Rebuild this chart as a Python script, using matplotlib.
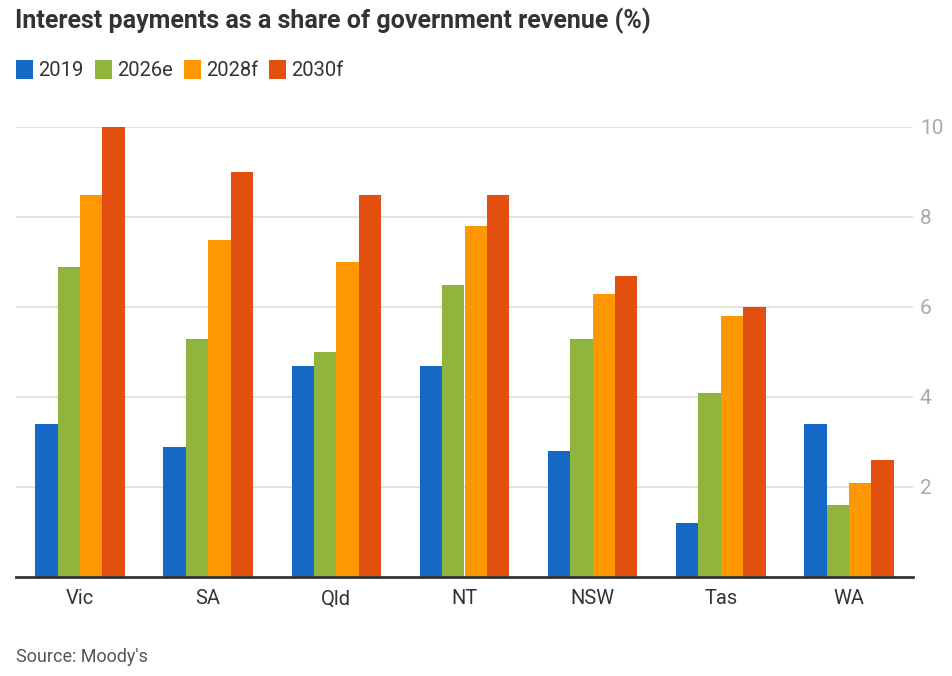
#!/usr/bin/env python3

import matplotlib
matplotlib.use('Agg')
import matplotlib.pyplot as plt
import numpy as np

# data
states = ['Vic', 'SA', 'Qld', 'NT', 'NSW', 'Tas', 'WA']
series = ['2019', '2026e', '2028f', '2030f']
v2019 = [3.4, 2.9, 4.7, 4.7, 2.8, 1.2, 3.4]
v2026e = [6.9, 5.3, 5.0, 6.5, 5.3, 4.1, 1.6]
v2028f = [8.5, 7.5, 7.0, 7.8, 6.3, 5.8, 2.1]
v2030f = [10.0, 9.0, 8.5, 8.5, 6.7, 6.0, 2.6]
colors = ['#1469c7', '#8fb53d', '#ff9700', '#e34f10']

plt.rcParams['font.family'] = ['Roboto', 'DejaVu Sans']

fig = plt.figure(figsize=(9.52, 6.76), dpi=100)
ax = fig.add_axes([16 / 952, 99 / 676, 897 / 952, 450 / 676])

x = np.arange(len(states))
width = 0.175
values = [v2019, v2026e, v2028f, v2030f]
for i, (name, vals) in enumerate(zip(series, values)):
    ax.bar(x + (i - 1.5) * width, vals, width=width, color=colors[i],
           label=name, zorder=3)

ax.set_xlim(-0.5, len(states) - 0.5)
ax.set_ylim(0, 10)
ax.set_xticks(x)
ax.set_xticklabels(states, fontsize=14.5, color='#333333')
ax.tick_params(axis='x', length=0, pad=9)

ax.set_yticks([2, 4, 6, 8, 10])
ax.yaxis.tick_right()
ax.tick_params(axis='y', length=0, pad=5, labelsize=15, labelcolor='#aaaaaa')
ax.grid(axis='y', color='#dddddd', linewidth=1.2, zorder=0)

for side in ['top', 'left', 'right']:
    ax.spines[side].set_visible(False)
ax.spines['bottom'].set_color('#333333')
ax.spines['bottom'].set_linewidth(2)
ax.spines['bottom'].set_zorder(4)

fig.text(15 / 952, 1 - 21 / 676, 'Interest payments as a share of government revenue (%)',
         fontsize=18, fontweight='bold', color='#333333', va='center', ha='left')

fig.legend(loc='center left', bbox_to_anchor=(-2 / 952, 1 - 70 / 676), ncol=4,
           frameon=False, fontsize=14.5, handlelength=0.85, handleheight=1.05,
           handletextpad=0.25, columnspacing=0.55, labelcolor='#333333')

fig.text(16 / 952, 1 - 657 / 676, "Source: Moody's", fontsize=13,
         color='#555555', va='center', ha='left')

fig.savefig('out.png', dpi=100)
